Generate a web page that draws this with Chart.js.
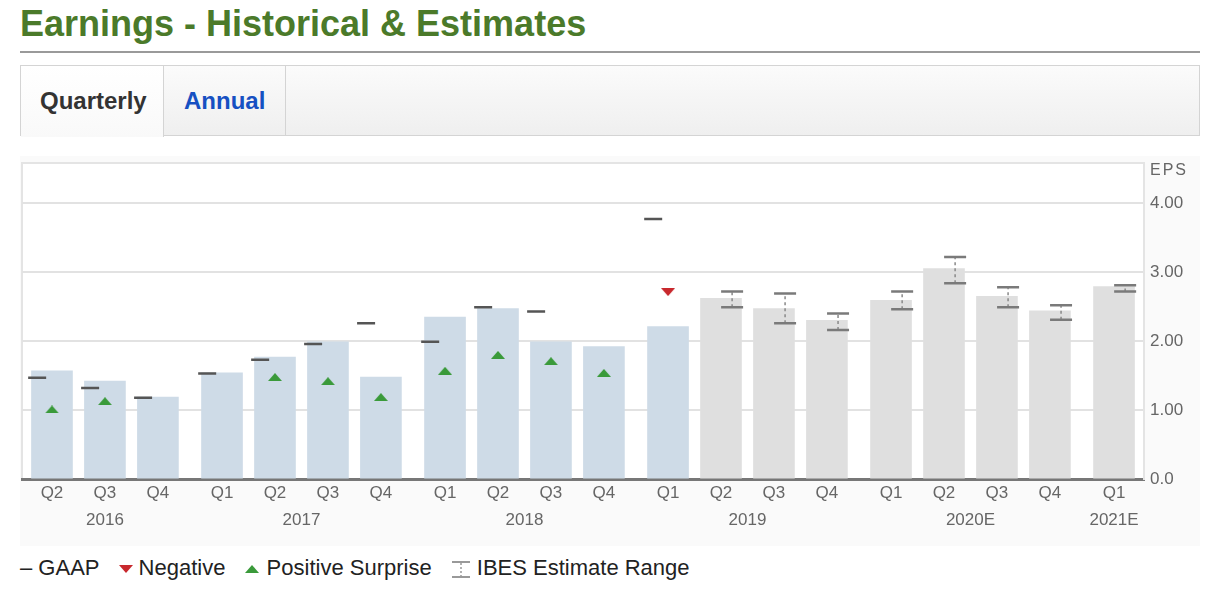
<!DOCTYPE html>
<html>
<head>
<meta charset="utf-8">
<script src="https://cdn.jsdelivr.net/npm/chart.js@4.4.1/dist/chart.umd.min.js"></script>
<style>
  body { margin: 0; background: #fff; font-family: "Liberation Sans", Arial, sans-serif; }
  #title { position: absolute; left: 20px; top: 3px; margin: 0; font-size: 36px; font-weight: bold; color: #4b7a2a; }
  #rule { position: absolute; left: 20px; top: 51px; width: 1180px; height: 2px; background: #9a9a9a; }
  #tabs { position: absolute; left: 20px; top: 65px; width: 1178px; height: 69px; border: 1px solid #d4d4d4;
          background: linear-gradient(#fbfbfb, #efefef); }
  .tab { position: absolute; top: 0; height: 69px; line-height: 70px; font-size: 24px; font-weight: bold; }
  #tabQ { left: 0; width: 142px; background: linear-gradient(#fff, #f9f9f9); color: #333; text-indent: 19px;
          height: 71px; border-right: 1px solid #d4d4d4; }
  #tabA { left: 143px; width: 121px; color: #1650c2; text-indent: 20px; border-right: 1px solid #d4d4d4; }
  #chartBox { position: absolute; left: 20px; top: 156px; width: 1180px; height: 390px; background: #fafafa; }
  #legend { position: absolute; left: 20px; top: 554px; font-size: 22px; color: #222; white-space: nowrap; }
  #legend span { display: inline-block; vertical-align: middle; }
  .item { margin-right: 13px; }
</style>
</head>
<body>
<h1 id="title">Earnings - Historical &amp; Estimates</h1>
<div id="rule"></div>
<div id="tabs">
  <div class="tab" id="tabQ">Quarterly</div>
  <div class="tab" id="tabA">Annual</div>
</div>
<div id="chartBox"><canvas id="epsChart"></canvas></div>
<div id="legend">
  <span class="item">&ndash; GAAP</span>
  <span class="item"><span style="width:0;height:0;border-left:7px solid transparent;border-right:7px solid transparent;border-top:8px solid #c8282d;margin-right:6px;"></span>Negative</span>
  <span class="item"><span style="width:0;height:0;border-left:7px solid transparent;border-right:7px solid transparent;border-bottom:8px solid #3a9a3a;margin-right:8px;"></span>Positive Surprise</span>
  <span class="item"><svg width="20" height="20" style="vertical-align:middle;margin-right:6px"><path d="M1 3H19M1 18H19" stroke="#999" stroke-width="2"/><path d="M10 4V17" stroke="#999" stroke-width="1.5" stroke-dasharray="2,2"/></svg>IBES Estimate Range</span>
</div>
<script>
var quarters = ['Q2', 'Q3', 'Q4', 'Q1', 'Q2', 'Q3', 'Q4', 'Q1', 'Q2', 'Q3', 'Q4', 'Q1', 'Q2', 'Q3', 'Q4', 'Q1', 'Q2', 'Q3', 'Q4', 'Q1'];
var years = ['2016', '2016', '2016', '2017', '2017', '2017', '2017', '2018', '2018', '2018', '2018',
             '2019', '2019', '2019', '2019', '2020E', '2020E', '2020E', '2020E', '2021E'];
var eps = [1.57, 1.42, 1.19, 1.54, 1.77, 1.99, 1.48, 2.35, 2.47, 1.99, 1.92, 2.21,
           2.62, 2.47, 2.30, 2.59, 3.05, 2.65, 2.44, 2.79];
var gaap = [1.47, 1.32, 1.18, 1.53, 1.73, 1.96, 2.26, 1.99, 2.49, 2.43, null, 3.77,
            null, null, null, null, null, null, null, null];
var positiveSurprise = [1.01, 1.13, null, null, 1.48, 1.42, 1.19, 1.57, 1.80, 1.71, 1.54, null,
                        null, null, null, null, null, null, null, null];
var negativeSurprise = [null, null, null, null, null, null, null, null, null, null, null, 2.71,
                        null, null, null, null, null, null, null, null];
var ibesHigh = [null, null, null, null, null, null, null, null, null, null, null, null,
                2.72, 2.69, 2.40, 2.72, 3.22, 2.78, 2.52, 2.81];
var ibesLow = [null, null, null, null, null, null, null, null, null, null, null, null,
               2.49, 2.26, 2.16, 2.46, 2.84, 2.49, 2.31, 2.72];
var yTicks = [0, 1, 2, 3, 4];

// x positions: one unit per quarter, a little extra space between years
var pos = [];
var gap = 0;
quarters.forEach(function (q, i) {
    if (i > 0 && years[i] !== years[i - 1]) gap += 0.21;
    pos.push(i + gap);
});
var yearNames = [];
var yearCenters = [];
years.forEach(function (y, i) {
    var k = yearNames.indexOf(y);
    if (k < 0) { yearNames.push(y); yearCenters.push([pos[i]]); }
    else yearCenters[k].push(pos[i]);
});
yearCenters = yearCenters.map(function (a) { return a.reduce(function (s, v) { return s + v; }, 0) / a.length; });

function points(values, offset) {
    var out = [];
    values.forEach(function (v, i) { if (v !== null) out.push({ x: pos[i] + offset, y: v }); });
    return out;
}
var rangePts = [];
ibesHigh.forEach(function (h, i) {
    if (h === null) return;
    rangePts.push({ x: pos[i] + 0.21, y: ibesLow[i] });
    rangePts.push({ x: pos[i] + 0.21, y: h });
    rangePts.push({ x: pos[i] + 0.21, y: null });
});

function triangle(color, down) {
    var c = document.createElement('canvas');
    c.width = 14; c.height = 8;
    var g = c.getContext('2d');
    g.fillStyle = color;
    g.beginPath();
    if (down) { g.moveTo(0, 0); g.lineTo(14, 0); g.lineTo(7, 8); }
    else { g.moveTo(0, 8); g.lineTo(14, 8); g.lineTo(7, 0); }
    g.fill();
    return c;
}

var frame = {
    id: 'frame',
    beforeDraw: function (chart) {
        var a = chart.chartArea, ctx = chart.ctx;
        ctx.save();
        ctx.fillStyle = '#fff';
        ctx.fillRect(a.left, a.top, a.right - a.left, a.bottom - a.top);
        ctx.strokeStyle = '#e4e4e4';
        ctx.lineWidth = 2;
        ctx.beginPath();
        ctx.moveTo(a.left, a.bottom);
        ctx.lineTo(a.left, a.top);
        ctx.lineTo(a.right, a.top);
        ctx.stroke();
        ctx.restore();
    },
    afterDraw: function (chart) {
        var ctx = chart.ctx, y = chart.scales.y;
        ctx.save();
        ctx.fillStyle = '#666';
        ctx.font = '16px "Liberation Sans", Arial';
        ctx.letterSpacing = '2px';
        ctx.textBaseline = 'middle';
        ctx.fillText('EPS', y.left + 6, chart.chartArea.top + 8);
        ctx.restore();
    }
};

function noPad(s) { s.paddingLeft = 0; s.paddingRight = 0; s.paddingTop = 0; s.paddingBottom = 0; }

var tickFont = { family: '"Liberation Sans", Arial', size: 17 };
var ctx = document.getElementById('epsChart').getContext('2d');
var epsChart = new Chart(ctx, {
    type: 'bar',
    data: {
        datasets: [
            {
                type: 'scatter',
                label: 'GAAP',
                data: points(gaap, -0.28),
                pointStyle: 'line',
                pointRadius: 9,
                pointHoverRadius: 9,
                pointBorderWidth: 2.5,
                borderColor: '#555',
                order: 1
            },
            {
                type: 'scatter',
                label: 'Positive Surprise',
                data: points(positiveSurprise, 0),
                pointStyle: triangle('#3a9a3a', false),
                order: 1
            },
            {
                type: 'scatter',
                label: 'Negative',
                data: points(negativeSurprise, 0),
                pointStyle: triangle('#c8282d', true),
                order: 1
            },
            {
                type: 'scatter',
                label: 'IBES Estimate Range',
                data: rangePts,
                showLine: true,
                spanGaps: false,
                borderColor: '#888',
                borderWidth: 1.5,
                borderDash: [3, 3],
                pointStyle: 'line',
                pointRadius: 11,
                pointHoverRadius: 11,
                pointBorderWidth: 2.5,
                pointBorderColor: '#7a7a7a',
                order: 2
            },
            {
                label: 'EPS',
                data: points(eps, 0),
                backgroundColor: eps.map(function (v, i) { return ibesHigh[i] === null ? '#cedbe7' : '#dfdfdf'; }),
                barThickness: 41,
                order: 5
            }
        ]
    },
    options: {
        responsive: true,
        maintainAspectRatio: false,
        animation: false,
        layout: { autoPadding: false, padding: { left: 2, top: 7, right: 0, bottom: 12 } },
        plugins: { legend: { display: false }, tooltip: { enabled: false } },
        scales: {
            x: {
                type: 'linear',
                position: 'bottom',
                offset: false,
                min: pos[0] - 0.566,
                max: pos[pos.length - 1] + 0.566,
                grid: { display: false, drawTicks: false },
                border: { color: '#777', width: 3 },
                afterBuildTicks: function (s) { s.ticks = pos.map(function (v) { return { value: v }; }); },
                afterFit: noPad,
                ticks: {
                    autoSkip: false, maxRotation: 0, padding: 4, color: '#666', font: tickFont,
                    callback: function (v, i) { return quarters[i]; }
                }
            },
            x2: {
                type: 'linear',
                position: 'bottom',
                offset: false,
                min: pos[0] - 0.566,
                max: pos[pos.length - 1] + 0.566,
                grid: { display: false, drawTicks: false },
                border: { display: false },
                afterBuildTicks: function (s) { s.ticks = yearCenters.map(function (v) { return { value: v }; }); },
                afterFit: noPad,
                ticks: {
                    autoSkip: false, maxRotation: 0, padding: 3, color: '#666', font: tickFont,
                    callback: function (v, i) { return yearNames[i]; }
                }
            },
            y: {
                position: 'right',
                min: 0,
                max: 4.58,
                afterBuildTicks: function (s) { s.ticks = yTicks.map(function (v) { return { value: v }; }); },
                afterFit: function (s) { s.width = 56; noPad(s); },
                grid: { color: '#e2e2e2', lineWidth: 2, drawTicks: false },
                border: { color: '#e4e4e4', width: 2 },
                ticks: {
                    padding: 6, color: '#666', font: tickFont,
                    callback: function (v) { return v === 0 ? '0.0' : v.toFixed(2); }
                }
            }
        }
    },
    plugins: [frame]
});
</script>
</body>
</html>
